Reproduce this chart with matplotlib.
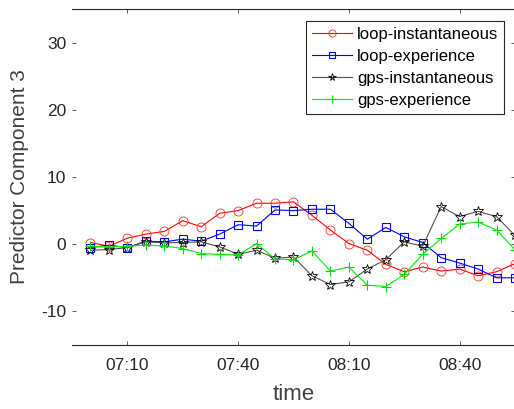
import matplotlib
matplotlib.use("Agg")

import matplotlib.pyplot as plt
import matplotlib.dates as mdates
import pandas as pd

# =======================
# Data
# =======================

times = ["07:00", "07:05", "07:10", "07:15", "07:20", "07:25", "07:30", "07:35",
         "07:40", "07:45", "07:50", "07:55", "08:00", "08:05", "08:10", "08:15",
         "08:20", "08:25", "08:30", "08:35", "08:40", "08:45", "08:50", "08:55"]

loop_inst = [0.25, -0.3, 0.9, 1.5, 1.9, 3.5, 2.6, 4.6, 5.0, 6.1, 6.1, 6.3,
             4.3, 2.1, 0.1, -0.9, -3.0, -4.1, -3.4, -4.0, -3.7, -4.7, -4.1, -2.9]
loop_exp = [-0.5, -0.15, -0.5, 0.45, 0.35, 0.75, 0.45, 1.5, 2.9, 2.7, 5.1, 5.0,
            5.2, 5.2, 3.1, 0.75, 2.5, 1.1, 0.25, -2.0, -2.8, -3.7, -5.0, -5.0]
gps_inst = [-0.9, -0.8, -0.5, 0.35, 0.2, 0.25, 0.35, -0.4, -1.5, -0.9, -2.1, -1.9,
            -4.7, -6.0, -5.6, -3.7, -2.3, 0.35, -0.3, 5.6, 4.1, 4.9, 4.1, 1.3]
gps_exp = [-0.3, -0.4, -0.3, -0.15, -0.25, -0.65, -1.4, -1.5, -1.6, 0.1, -2.2, -2.3,
           -1.0, -4.0, -3.4, -6.1, -6.3, -4.5, -1.5, 0.85, 3.0, 3.3, 2.1, -0.8]

xtick_labels = ["07:10", "07:40", "08:10", "08:40"]
yticks = [-10, 0, 10, 20, 30]

# =======================
# Figure
# =======================

plt.rcParams["font.family"] = ["Liberation Sans", "DejaVu Sans"]
plt.rcParams["axes.unicode_minus"] = False

day = "2015-01-01 "
t = pd.to_datetime([day + s for s in times])

fig = plt.figure(figsize=(5.14, 4.09), dpi=100)
ax = fig.add_axes([72 / 514, 64 / 409, 443 / 514, 336 / 409])

ax.plot(t, loop_inst, color="#ff0000", lw=0.8, marker="o", ms=6.5, mfc="none",
        mec="#ff3030", mew=0.6, label="loop-instantaneous")
ax.plot(t, loop_exp, color="#0000ff", lw=0.8, marker="s", ms=5.5, mfc="none",
        mec="#0000ff", mew=0.8, label="loop-experience")
ax.plot(t, gps_inst, color="#505050", lw=0.8, marker="*", ms=7, mfc="none",
        mec="#000000", mew=0.6, label="gps-instantaneous")
ax.plot(t, gps_exp, color="#00ee00", lw=0.8, marker="+", ms=7,
        mec="#00dd00", mew=0.8, label="gps-experience")

ax.set_xlim(pd.Timestamp(day + "06:55"), pd.Timestamp(day + "08:55"))
ax.set_ylim(-15, 35)

ax.set_xticks(pd.to_datetime([day + s for s in xtick_labels]))
ax.xaxis.set_major_formatter(mdates.DateFormatter("%H:%M"))
ax.set_yticks(yticks)

axis_col = "#262626"
for side in ["top", "bottom"]:
    ax.spines[side].set_color(axis_col)
    ax.spines[side].set_linewidth(0.8)
ax.spines["left"].set_visible(False)
ax.spines["right"].set_color(axis_col)

ax.tick_params(axis="both", direction="in", length=3, width=0.6, color="#404040",
               labelsize=12.5, labelcolor=axis_col, top=True, right=True)
ax.tick_params(axis="x", pad=9.5)
ax.tick_params(axis="y", pad=4)

ax.set_xlabel("time", fontsize=16, color="#404040", labelpad=8)
ax.set_ylabel("Predictor Component 3", fontsize=15, color="#404040", labelpad=9)

leg = ax.legend(loc="upper right", bbox_to_anchor=(0.975, 0.965), fontsize=12,
                fancybox=False, framealpha=1, edgecolor="#262626",
                handlelength=2.4, handletextpad=0.3, labelspacing=0.43,
                borderpad=0.35, borderaxespad=0, markerscale=0.8)
leg.get_frame().set_linewidth(0.8)

fig.savefig("out.png", dpi=100)
plt.close(fig)
